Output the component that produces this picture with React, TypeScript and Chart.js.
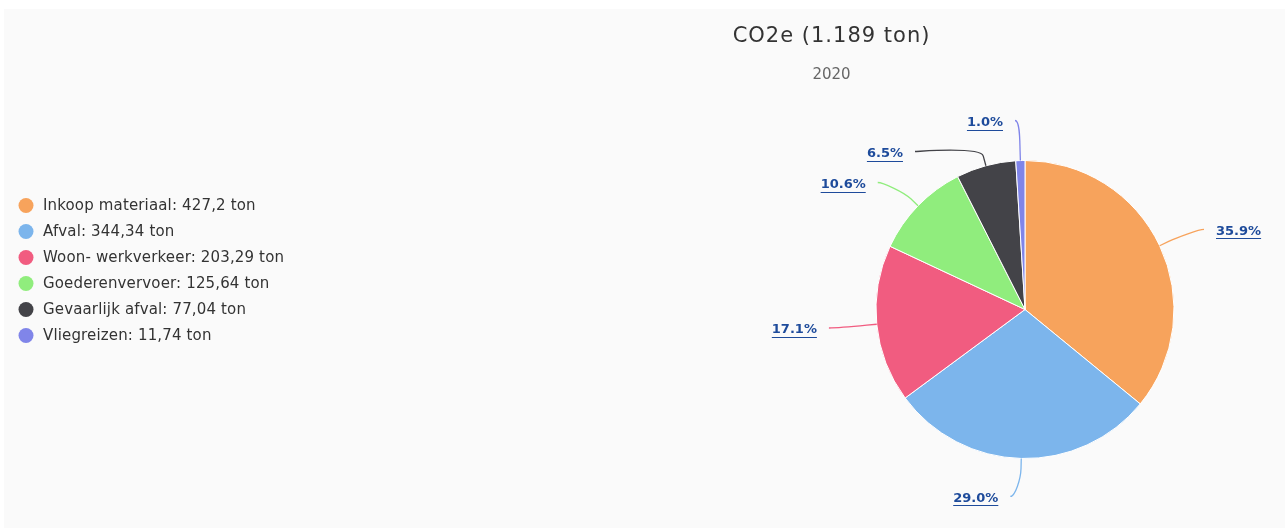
import React, { useEffect, useRef } from 'react';
import { Chart, registerables } from 'chart.js';

Chart.register(...registerables);

// ---- data ----
const categories = ['Inkoop materiaal', 'Afval', 'Woon- werkverkeer', 'Goederenvervoer', 'Gevaarlijk afval', 'Vliegreizen'];
const values = [427.2, 344.34, 203.29, 125.64, 77.04, 11.74];
const colors = ['#f7a35c', '#7cb5ec', '#f15c80', '#90ed7d', '#434348', '#8085e9'];
const titlePrefix = 'CO2e';
const subtitleText = '2020';
const unit = 'ton';

const FONT = '"DejaVu Sans", "Lucida Grande", Verdana, sans-serif';
const LABEL_COLOR = '#1e4b9b';

const total = values.reduce((s, v) => s + v, 0);
const nl = (v: number) => String(v).replace('.', ',');
const thousands = (n: number) => String(n).replace(/\B(?=(\d{3})+(?!\d))/g, '.');
const titleText = `${titlePrefix} (${thousands(Math.round(total))} ${unit})`;
const legendTexts = categories.map((c, i) => `${c}: ${nl(values[i])} ${unit}`);
const pctTexts = values.map((v) => `${((v / total) * 100).toFixed(1)}%`);

const headerPlugin = {
  id: 'headerText',
  afterDraw(chart: any) {
    const ctx = chart.ctx as CanvasRenderingContext2D;
    const x = chart.width * 0.646;
    ctx.save();
    ctx.textAlign = 'center';
    ctx.textBaseline = 'middle';
    ctx.fillStyle = '#333333';
    ctx.font = `21px ${FONT}`;
    (ctx as any).letterSpacing = '1px';
    ctx.fillText(titleText, x, 28);
    (ctx as any).letterSpacing = '0px';
    ctx.fillStyle = '#666666';
    ctx.font = `15px ${FONT}`;
    ctx.fillText(subtitleText, x, 66);
    ctx.restore();
  },
};

const legendPlugin = {
  id: 'sideLegend',
  afterDraw(chart: any) {
    const ctx = chart.ctx as CanvasRenderingContext2D;
    const n = legendTexts.length;
    const rowH = 26;
    const y0 = chart.height / 2 - ((n - 1) * rowH) / 2 + 2;
    ctx.save();
    ctx.textBaseline = 'middle';
    ctx.textAlign = 'left';
    ctx.font = `15px ${FONT}`;
    (ctx as any).letterSpacing = '0.15px';
    for (let i = 0; i < n; i++) {
      const y = y0 + i * rowH;
      ctx.beginPath();
      ctx.arc(22, y, 7.5, 0, Math.PI * 2);
      ctx.fillStyle = colors[i];
      ctx.fill();
      ctx.fillStyle = '#333333';
      ctx.fillText(legendTexts[i], 39, y + 1);
    }
    ctx.restore();
  },
};

const pieLabelPlugin = {
  id: 'pieLabels',
  afterDatasetsDraw(chart: any) {
    const ctx = chart.ctx as CanvasRenderingContext2D;
    const meta = chart.getDatasetMeta(0);
    const area = chart.chartArea;
    const H = 31;
    const items = meta.data.map((arc: any, i: number) => {
      const p = arc.getProps(['x', 'y', 'startAngle', 'endAngle', 'outerRadius'], true);
      const a = (p.startAngle + p.endAngle) / 2;
      const R = p.outerRadius + 38;
      return {
        i, a, cx: p.x, cy: p.y, r: p.outerRadius, R,
        left: Math.cos(a) < 0,
        target: p.y + R * Math.sin(a),
        ly: 0,
      };
    });
    for (const side of [true, false]) {
      const list = items.filter((it: any) => it.left === side).sort((p: any, q: any) => p.target - q.target);
      const recompute = (g: any) => {
        const n = g.items.length;
        let m = 0;
        g.items.forEach((it: any, k: number) => { m += it.target - k * H; });
        m = m / n - H / 2;
        g.pos = Math.min(Math.max(m, area.top), area.bottom - n * H);
      };
      const groups = list.map((it: any) => { const g: any = { items: [it], pos: 0 }; recompute(g); return g; });
      let changed = true;
      while (changed) {
        changed = false;
        for (let g = 1; g < groups.length; g++) {
          const p = groups[g - 1], c = groups[g];
          if (p.pos + p.items.length * H > c.pos + 0.01) {
            p.items = p.items.concat(c.items);
            groups.splice(g, 1);
            recompute(p);
            changed = true;
            break;
          }
        }
      }
      groups.forEach((g: any) => g.items.forEach((it: any, k: number) => { it.ly = g.pos + k * H + H / 2; }));
    }

    ctx.save();
    ctx.font = `bold 13px ${FONT}`;
    ctx.textBaseline = 'middle';
    for (const it of items) {
      const sgn = it.left ? -1 : 1;
      const dy = it.ly - it.cy;
      const dx = Math.sqrt(Math.max(it.R * it.R - dy * dy, 0)) + 10;
      const ax = it.cx + sgn * dx;
      const ca = Math.cos(it.a), sa = Math.sin(it.a);
      const tx = it.cx + it.r * ca, ty = it.cy + it.r * sa;
      const bx = it.cx + (it.r + 10) * ca, by = it.cy + (it.r + 10) * sa;
      ctx.beginPath();
      ctx.moveTo(ax, it.ly);
      ctx.bezierCurveTo(ax - sgn * 5, it.ly, 2 * bx - tx, 2 * by - ty, bx, by);
      ctx.lineTo(tx, ty);
      ctx.strokeStyle = colors[it.i];
      ctx.lineWidth = 1.3;
      ctx.stroke();

      const text = pctTexts[it.i];
      const w = ctx.measureText(text).width;
      const textX = it.left ? ax - 12 - w : ax + 12;
      const textY = it.ly + 2;
      ctx.fillStyle = LABEL_COLOR;
      ctx.textAlign = 'left';
      ctx.fillText(text, textX, textY);
      ctx.beginPath();
      const uy = Math.round(textY + 7) + 0.5;
      ctx.moveTo(textX, uy);
      ctx.lineTo(textX + w, uy);
      ctx.strokeStyle = LABEL_COLOR;
      ctx.lineWidth = 1;
      ctx.stroke();
    }
    ctx.restore();
  },
};

export default function App() {
  const canvasRef = useRef<HTMLCanvasElement | null>(null);

  useEffect(() => {
    if (!canvasRef.current) return;
    const chart = new Chart(canvasRef.current, {
      type: 'pie',
      data: {
        labels: categories,
        datasets: [
          {
            data: values,
            backgroundColor: colors,
            borderColor: '#ffffff',
            borderWidth: 1,
          },
        ],
      },
      options: {
        animation: false,
        responsive: true,
        maintainAspectRatio: false,
        radius: 149,
        layout: { padding: { top: 96, bottom: 14, left: 761, right: 0 } },
        plugins: {
          legend: { display: false },
          title: { display: false },
          tooltip: { enabled: false },
        },
      } as any,
      plugins: [headerPlugin, legendPlugin, pieLabelPlugin],
    });
    return () => chart.destroy();
  }, []);

  return (
    <div
      style={{
        position: 'absolute',
        left: 4,
        top: 9,
        width: 1281,
        height: 519,
        background: '#fafafa',
      }}
    >
      <canvas ref={canvasRef} style={{ display: 'block' }} />
    </div>
  );
}
